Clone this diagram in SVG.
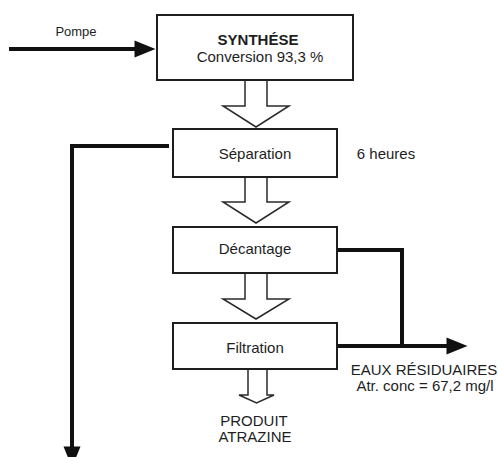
<svg xmlns="http://www.w3.org/2000/svg" width="498" height="457" viewBox="0 0 498 457">
<style>
.box{fill:#fff;stroke:#1e1e1e;stroke-width:2}
.hol{fill:#fff;stroke:#2a2a2a;stroke-width:1.5;stroke-linejoin:miter}
.t{font-family:"Liberation Sans",Arial,sans-serif;font-size:15px;fill:#1e1e1e;text-anchor:middle}
.s{font-family:"Liberation Sans",Arial,sans-serif;font-size:13px;fill:#1e1e1e;text-anchor:middle}
.flow{fill:none;stroke:#111;stroke-width:4}
</style>
<defs>
<marker id="ah" markerUnits="userSpaceOnUse" markerWidth="22" markerHeight="18" refX="0.5" refY="8.5" orient="auto" overflow="visible">
<path d="M0,0 L21,8.5 L0,17 Z" fill="#111"/>
</marker>
</defs>
<rect width="498" height="457" fill="#fff"/>
<g id="connectors">
<line class="flow" x1="9" y1="49" x2="135" y2="49" marker-end="url(#ah)"/>
<polyline class="flow" points="169,146 72,146 72,447" marker-end="url(#ah)"/>
<polyline class="flow" points="337,250 402,250 402,346"/>
<line class="flow" x1="337" y1="346" x2="447" y2="346" marker-end="url(#ah)"/>
<path class="hol" d="M245,80 V106 H223 L256,127 L289,106 H267 V80"/>
<path class="hol" d="M245,177 V202 H223 L256,223 L289,202 H267 V177"/>
<path class="hol" d="M245,273 V299 H223 L256,319 L289,299 H267 V273"/>
<path class="hol" d="M248,369 V395 H239 L256.5,403 L274,395 H267 V369"/>
</g>
<text class="s" x="76" y="36">Pompe</text>
<g id="synthese">
<rect class="box" x="157" y="15" width="196" height="65"/>
<text class="t" x="258" y="45" font-weight="bold">SYNTHÉSE</text>
<text class="t" x="260" y="62">Conversion 93,3 %</text>
</g>
<g id="separation">
<rect class="box" x="173" y="129" width="164" height="48"/>
<text class="t" x="255" y="159">Séparation</text>
</g>
<text class="t" x="386" y="159">6 heures</text>
<g id="decantage">
<rect class="box" x="173" y="227" width="164" height="46"/>
<text class="t" x="255" y="254">Décantage</text>
</g>
<g id="filtration">
<rect class="box" x="173" y="323" width="164" height="46"/>
<text class="t" x="255" y="353">Filtration</text>
</g>
<g id="eaux">
<text class="t" x="424" y="375">EAUX RÉSIDUAIRES</text>
<text class="t" x="425" y="391">Atr. conc = 67,2 mg/l</text>
</g>
<g id="produit">
<text class="t" x="254" y="426">PRODUIT</text>
<text class="t" x="255" y="442">ATRAZINE</text>
</g>
</svg>
